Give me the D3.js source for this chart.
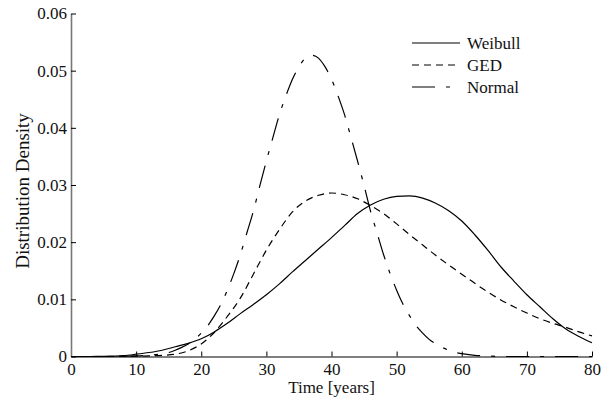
<!DOCTYPE html>
<html>
<head>
<meta charset="utf-8">
<script src="https://cdn.jsdelivr.net/npm/d3@7"></script>
<style>
  body { margin: 0; background: #fff; }
  svg { display: block; }
  svg text { font-family: "Liberation Serif", "Times New Roman", serif; font-size: 17px; fill: #111; }
</style>
</head>
<body>
<div id="chart"></div>
<script>
// values
const years2 = [0, 2, 4, 6, 8, 10, 12, 14, 16, 18, 20, 22, 24, 26, 28, 30, 32, 34, 36, 38, 40,
  42, 44, 46, 48, 50, 52, 54, 56, 58, 60, 62, 64, 66, 68, 70, 72, 74, 76, 78, 80];
const weibull = [0, 0, 0.00001, 0.00005, 0.00015, 0.0004, 0.0007, 0.0011, 0.0017, 0.0023, 0.0031,
  0.0043, 0.0058, 0.0075, 0.0091, 0.0108, 0.0127, 0.0148, 0.0168, 0.0188, 0.0208,
  0.0229, 0.0250, 0.0265, 0.0275, 0.0280, 0.0281, 0.0277, 0.0268, 0.0255, 0.0237,
  0.0213, 0.0186, 0.0157, 0.0132, 0.0108, 0.0087, 0.0066, 0.0048, 0.0035, 0.0024];
const ged = [0, 0, 0, 0, 0.00002, 0.00005, 0.0001, 0.0002, 0.0004, 0.0010, 0.0022,
  0.0042, 0.0070, 0.0102, 0.0144, 0.0186, 0.0222, 0.0253, 0.0272, 0.0282, 0.0286,
  0.0283, 0.0276, 0.0264, 0.0250, 0.0232, 0.0213, 0.0195, 0.0177, 0.0160, 0.0144,
  0.0128, 0.0113, 0.0099, 0.0087, 0.0076, 0.0066, 0.0058, 0.0051, 0.0043, 0.0036];

const yearsN = [0, 5, 10, 12, 14, 15, 16, 17, 18, 19, 20, 21, 22, 23, 24, 25, 26, 27, 28, 29, 30,
  31, 32, 33, 34, 35, 36, 37, 38, 39, 40, 41, 42, 43, 44, 45, 46, 47, 48, 49, 50,
  51, 52, 53, 54, 55, 56, 57, 58, 59, 60, 62, 64, 66, 70, 75, 80];
const normal = [0, 0, 0.0001, 0.0002, 0.0005, 0.0007, 0.0011, 0.0016, 0.0022, 0.0030, 0.0041,
  0.0054, 0.0071, 0.0091, 0.0116, 0.0145, 0.0178, 0.0216, 0.0254, 0.0299, 0.0342,
  0.0383, 0.0423, 0.0456, 0.0485, 0.0507, 0.0522, 0.0527, 0.0522, 0.0507, 0.0485,
  0.0456, 0.0423, 0.0383, 0.0342, 0.0299, 0.0254, 0.0216, 0.0178, 0.0145, 0.0116,
  0.0091, 0.0071, 0.0054, 0.0041, 0.0030, 0.0022, 0.0016, 0.0011, 0.0007, 0.0005,
  0.0002, 0.0001, 0, 0, 0, 0];

const xTicks = [0, 10, 20, 30, 40, 50, 60, 70, 80];
const yTicks = [0, 0.01, 0.02, 0.03, 0.04, 0.05, 0.06];
const seriesNames = ['Weibull', 'GED', 'Normal'];

const width = 608;
const height = 398;
const margin = { top: 13.5, right: 16, bottom: 41.5, left: 71 };

const svg = d3.select('#chart')
  .append('svg')
  .attr('width', width)
  .attr('height', height);

const x = d3.scaleLinear().domain([0, 80]).range([margin.left, width - margin.right]);
const y = d3.scaleLinear().domain([0, 0.06]).range([height - margin.bottom, margin.top]);

// axes, ticks pointing into the plot
const xAxis = svg.append('g')
  .attr('transform', `translate(0, ${ y(0) })`)
  .call(d3.axisBottom(x).tickValues(xTicks).tickSizeInner(-5).tickSizeOuter(0).tickPadding(6));
xAxis.attr('font-family', null).attr('font-size', null);
xAxis.select('.domain').attr('stroke', '#000');

const yAxis = svg.append('g')
  .attr('transform', `translate(${ x(0) }, 0)`)
  .call(d3.axisLeft(y).tickValues(yTicks).tickSizeInner(-5).tickSizeOuter(0).tickPadding(4)
    .tickFormat(d => d === 0 ? '0' : d3.format('.2f')(d)));
yAxis.attr('font-family', null).attr('font-size', null);
yAxis.select('.domain').attr('stroke', '#777').attr('stroke-width', 1.6);

const line = d3.line()
  .x(d => x(d[0]))
  .y(d => y(d[1]))
  .curve(d3.curveMonotoneX);

const series = [
  { name: seriesNames[0], xs: years2, ys: weibull, dash: null },
  { name: seriesNames[1], xs: years2, ys: ged, dash: '7,5' },
  { name: seriesNames[2], xs: yearsN, ys: normal, dash: '23,11,4,11' }
];

svg.append('g')
  .attr('fill', 'none')
  .attr('stroke', '#000')
  .attr('stroke-width', 1.2)
  .selectAll('path')
  .data(series)
  .join('path')
  .attr('stroke-dasharray', d => d.dash)
  .attr('d', d => line(d.xs.map((t, i) => [t, d.ys[i]])));

// legend
const legend = svg.append('g')
  .attr('transform', 'translate(412, 43)');

const item = legend.selectAll('g')
  .data(series)
  .join('g')
  .attr('transform', (d, i) => `translate(0, ${ i * 22 })`);

item.append('line')
  .attr('x1', 0)
  .attr('x2', 48)
  .attr('stroke', '#000')
  .attr('stroke-width', 1.2)
  .attr('stroke-dasharray', d => d.dash);

item.append('text')
  .attr('x', 55)
  .attr('dy', '0.33em')
  .text(d => d.name);

// axis titles
svg.append('text')
  .attr('x', (x(0) + x(80)) / 2)
  .attr('y', 393)
  .attr('text-anchor', 'middle')
  .text('Time [years]');

svg.append('text')
  .attr('transform', `translate(29, 191) rotate(-90)`)
  .attr('text-anchor', 'middle')
  .style('font-size', '19px')
  .text('Distribution Density');
</script>
</body>
</html>
